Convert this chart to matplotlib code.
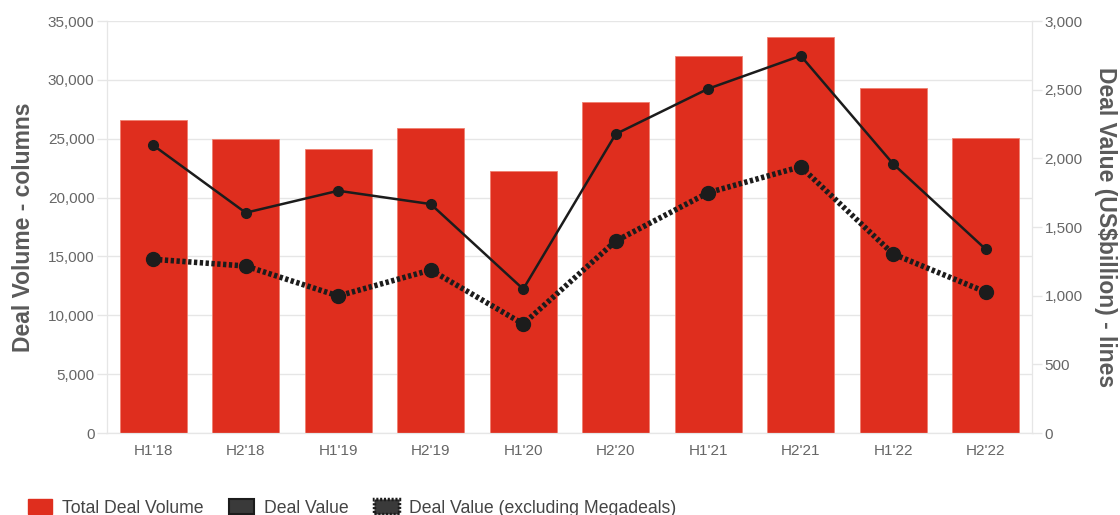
import matplotlib
matplotlib.use("Agg")
import matplotlib.pyplot as plt
from matplotlib.patches import Patch
from matplotlib.ticker import FuncFormatter, MultipleLocator

categories = ["H1'18", "H2'18", "H1'19", "H2'19", "H1'20", "H2'20", "H1'21", "H2'21", "H1'22", "H2'22"]
deal_volume = [26600, 25000, 24100, 25900, 22300, 28100, 32000, 33600, 29300, 25100]
deal_value = [2095, 1604, 1764, 1667, 1048, 2177, 2507, 2747, 1959, 1338]
deal_value_ex_mega = [1265, 1216, 998, 1187, 794, 1398, 1750, 1939, 1303, 1027]

RED = "#DF2E1E"
DARK = "#1c1c1c"
TEXT = "#666666"
LABEL = "#5a5a5a"
GRID = "#e6e6e6"

plt.rcParams['font.family'] = ['Liberation Sans', 'DejaVu Sans']

fig = plt.figure(figsize=(11.2, 5.15), dpi=100)
ax = fig.add_axes([0.0955, 0.1592, 0.8259, 0.8000])
ax2 = ax.twinx()

x = list(range(len(categories)))
ax.bar(x, deal_volume, width=0.72, color=RED, zorder=2, edgecolor="#f08070", linewidth=0.6)
ax.set_ylim(0, 35000)
ax.set_xlim(-0.5, len(categories) - 0.5)
ax.yaxis.set_major_locator(MultipleLocator(5000))
ax.yaxis.set_major_formatter(FuncFormatter(lambda v, p: f"{int(v):,}"))
ax.grid(axis='y', color=GRID, linewidth=1, zorder=0)
ax.set_axisbelow(True)
ax.set_xticks(x)
ax.set_xticklabels(categories)

ax2.plot(x, deal_value_ex_mega, color=DARK, linewidth=4, linestyle=(0, (0.6, 0.45)),
         marker='o', markersize=10, zorder=3)
ax2.plot(x, deal_value, color=DARK, linewidth=1.8, marker='o', markersize=7, zorder=4)
ax2.set_ylim(0, 3000)
ax2.yaxis.set_major_locator(MultipleLocator(500))
ax2.yaxis.set_major_formatter(FuncFormatter(lambda v, p: f"{int(v):,}"))

for a in (ax, ax2):
    for s in a.spines.values():
        s.set_color(GRID)
    a.spines['top'].set_visible(False)
    a.tick_params(axis='both', colors=GRID, labelcolor=TEXT, labelsize=11, length=7, width=1)
ax.tick_params(axis='x', length=0, pad=8)
ax.tick_params(axis='y', pad=2)
ax2.tick_params(axis='y', pad=2)

ax.set_ylabel("Deal Volume - columns", fontsize=16.5, fontweight='bold', color=LABEL, labelpad=9)
ax2.set_ylabel("Deal Value (US\\$billion) - lines", fontsize=16.5, fontweight='bold', color=LABEL,
               rotation=270, labelpad=25)

handles = [
    Patch(facecolor=RED, edgecolor=RED, label="Total Deal Volume"),
    Patch(facecolor="#3a3a3a", edgecolor=DARK, linewidth=1.5, label="Deal Value"),
    Patch(facecolor="#3a3a3a", edgecolor=DARK, linewidth=2.5, linestyle=(0, (0.6, 0.5)),
          label="Deal Value (excluding Megadeals)"),
]
fig.legend(handles=handles, loc='lower left', bbox_to_anchor=(0.0105, -0.034), ncol=3, frameon=False,
           fontsize=12.7, handlelength=1.4, handleheight=1.0, handletextpad=0.57, columnspacing=1.45,
           labelcolor="#444444")

fig.savefig("out.png", dpi=100)
